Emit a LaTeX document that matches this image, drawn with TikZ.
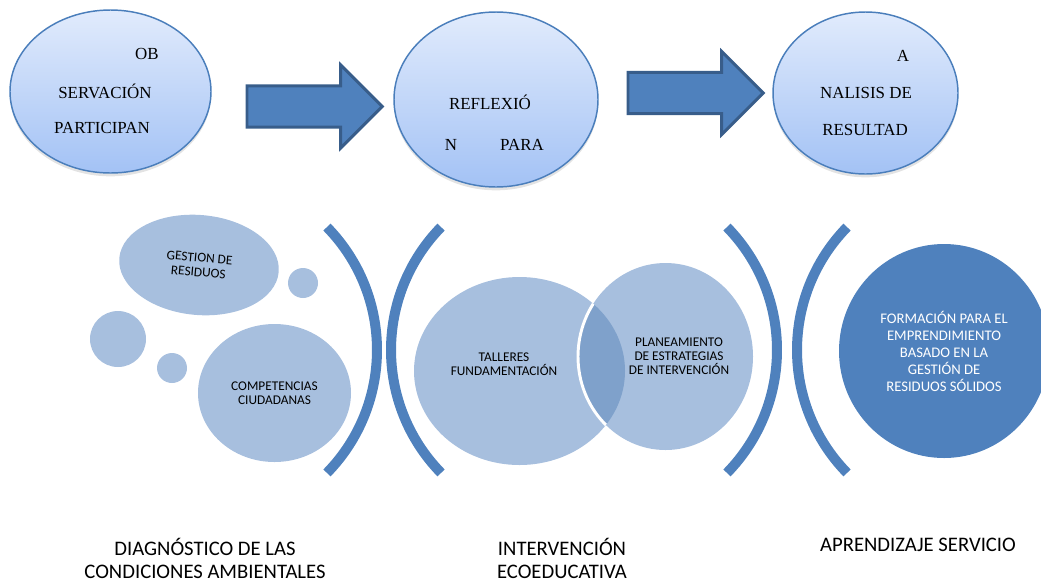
\documentclass[tikz,border=0pt]{standalone}
\usepackage{fontspec}
\setmainfont{Carlito}
\newfontfamily\serifmain{Liberation Serif}
\usetikzlibrary{shapes.geometric,shapes.arrows,shadows}
\definecolor{stagetop}{HTML}{E1EBFC}
\definecolor{stagebot}{HTML}{A3C2F5}
\definecolor{stageedge}{HTML}{4A7EBB}
\definecolor{arrowfill}{HTML}{4F81BD}
\definecolor{arrowedge}{HTML}{385D8A}
\definecolor{bubblefill}{HTML}{A7BFDE}
\definecolor{lensfill}{HTML}{7FA1CB}
\definecolor{deep}{HTML}{4F81BD}

\begin{document}
\begin{tikzpicture}[x=0.75pt,y=-0.75pt,
    stage/.style={ellipse,draw=stageedge,line width=1.1pt,top color=stagetop,bottom color=stagebot,inner sep=0pt,
      drop shadow={opacity=0.22,shadow xshift=0pt,shadow yshift=-2.5pt}},
    stagetext/.style={font=\serifmain\fontsize{12.7}{14}\selectfont,inner sep=0pt},
    flow/.style={single arrow,fill=arrowfill,draw=arrowedge,line width=2.2pt,inner xsep=0pt,inner ysep=14.4pt,
      single arrow head extend=15.75pt,single arrow tip angle=90,minimum height=101.5pt,anchor=tail},
    bubble/.style={ellipse,fill=bubblefill,inner sep=0pt,align=center,font=\fontsize{10}{10.8}\selectfont},
    dot/.style={circle,fill=bubblefill,inner sep=0pt},
    venntext/.style={align=center,inner sep=0pt,font=\fontsize{10}{10.5}\selectfont},
    bracket/.style={draw=deep,line width=7.5pt},
    phase/.style={align=center,inner sep=0pt,font=\fontsize{15.5}{17.25}\selectfont}]

  \useasboundingbox (0,0) rectangle (1041,583);

  % top row
  \node[stage,minimum width=150.75pt,minimum height=122.25pt] (obs) at (110.5,91.5) {};
  \node[stage,minimum width=153pt,minimum height=131.25pt] (refl) at (496,99.5) {};
  \node[stage,minimum width=138.75pt,minimum height=121.5pt] (anal) at (865.5,93) {};
  \node[flow] (arrA) at (245.5,106.5) {};
  \node[flow] (arrB) at (626.5,93) {};

  \node[stagetext] (obsA) at (147,54) {OB};
  \node[stagetext] (obsB) at (105,91) {SERVACIÓN};
  \node[stagetext] (obsC) at (102,128) {PARTICIPAN};
  \node[stagetext] (reflA) at (490,102) {REFLEXIÓ};
  \node[stagetext] (reflB) at (451,145) {N};
  \node[stagetext] (reflC) at (522,145) {PARA};
  \node[stagetext] (analA) at (903,56) {A};
  \node[stagetext] (analB) at (866,93) {NALISIS DE};
  \node[stagetext] (analC) at (865,130) {RESULTAD};

  % brackets
  \draw[bracket] (201,350) ++(-44.3:176) arc[start angle=-44.3,end angle=44.3,radius=176];
  \draw[bracket] (567,350) ++(135.7:176) arc[start angle=135.7,end angle=224.3,radius=176];
  \draw[bracket] (601,350) ++(-44.3:176) arc[start angle=-44.3,end angle=44.3,radius=176];
  \draw[bracket] (973,350) ++(135.7:176) arc[start angle=135.7,end angle=224.3,radius=176];

  % diagnostico
  \node[bubble,rotate=-5,minimum width=120pt,minimum height=75pt] (gest) at (199,265) {GESTION DE\\RESIDUOS};
  \node[dot,minimum size=22.5pt] (dotA) at (303,283) {};
  \node[dot,minimum size=42pt] (dotB) at (118,339) {};
  \node[dot,minimum size=22.5pt] (dotC) at (172,368) {};
  \node[bubble,minimum width=114.75pt,minimum height=103.5pt] (comp) at (274.5,393) {COMPETENCIAS\\CIUDADANAS};

  % intervencion
  \node[bubble,minimum width=158.25pt,minimum height=141pt] (tall) at (519.5,371) {};
  \node[bubble,minimum width=131.25pt,minimum height=140.25pt] (plan) at (665.5,356.5) {};
  \begin{scope}
    \clip (tall.center) ellipse [x radius=105.5,y radius=94];
    \fill[lensfill] (plan.center) ellipse [x radius=87.5,y radius=93.5];
    \draw[white,line width=2.2pt] (plan.center) ellipse [x radius=87.5,y radius=93.5];
  \end{scope}
  \node[venntext] (talltxt) at (504,364) {TALLERES\\FUNDAMENTACIÓN};
  \node[venntext] (plantxt) at (679,356.5) {PLANEAMIENTO\\DE ESTRATEGIAS\\DE INTERVENCIÓN};

  % aprendizaje
  \node[ellipse,fill=deep,text=white,align=center,inner sep=0pt,minimum width=157.5pt,minimum height=160.5pt,
    font=\fontsize{11}{12.75}\selectfont] (form) at (944,351)
    {FORMACIÓN PARA EL\\EMPRENDIMIENTO\\BASADO EN LA\\GESTIÓN DE\\RESIDUOS SÓLIDOS};

  \node[phase] (diag) at (205,558.5) {DIAGNÓSTICO DE LAS\\CONDICIONES AMBIENTALES};
  \node[phase] (inter) at (562,558.5) {INTERVENCIÓN\\ECOEDUCATIVA};
  \node[phase] (apre) at (918,545) {APRENDIZAJE SERVICIO};
\end{tikzpicture}
\end{document}
